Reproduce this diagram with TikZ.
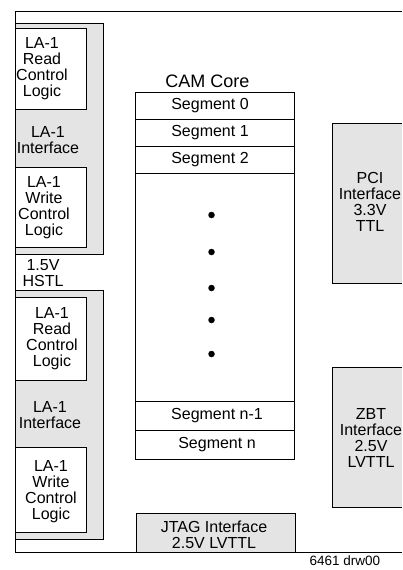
\documentclass[tikz,border=0pt]{standalone}
\usepackage{fontspec}
\setmainfont{Liberation Sans}
\definecolor{boxgray}{HTML}{E4E4E4}
\begin{document}
\begin{tikzpicture}[x=1pt,y=-1pt,line width=1pt,
  txt/.style={font=\fontsize{16}{16}\selectfont,align=center,inner sep=0pt},
  small/.style={font=\fontsize{13.5}{15}\selectfont,inner sep=0pt},
  title/.style={font=\fontsize{18}{18}\selectfont,inner sep=0pt},
  gbox/.style={draw,fill=boxgray},
  wbox/.style={draw,fill=white},
  dot/.style={circle,fill=black,inner sep=0pt,minimum size=6.5pt}]
\useasboundingbox (0,0) rectangle (402,570);
% outer frame
\draw (402,11) -- (15,11) -- (15,552) -- (402,552);
% upper LA-1 interface
\draw[gbox] (15,23) rectangle (103,254);
\draw[wbox] (15,28) rectangle (86,109);
\draw[wbox] (15,167) rectangle (86,247);
\node[txt] (ur) at (42,69) {LA-1\\Read\\Control\\Logic};
\node[txt] (ui) at (48,140) {LA-1\\Interface};
\node[txt] (uw) at (44,208) {LA-1\\Write\\Control\\Logic};
\node[txt] (hstl) at (43,273) {1.5V\\HSTL};
% lower LA-1 interface
\draw[gbox] (15,290) rectangle (103,539);
\draw[wbox] (15,297) rectangle (86,380);
\draw[wbox] (15,447) rectangle (86,532);
\node[txt] (lr) at (52,338.5) {LA-1\\Read\\Control\\Logic};
\node[txt] (li) at (50,415) {LA-1\\Interface};
\node[txt] (lw) at (51,491.5) {LA-1\\Write\\Control\\Logic};
% CAM core
\node[title] (cam) at (207.5,81) {CAM Core};
\draw (135,92) rectangle (294,459);
\draw (135,119) -- (294,119);
\draw (135,146) -- (294,146);
\draw (135,173) -- (294,173);
\draw (135,401) -- (294,401);
\draw (135,430) -- (294,430);
\node[txt] (s0) at (210,105.5) {Segment 0};
\node[txt] (s1) at (210,132.5) {Segment 1};
\node[txt] (s2) at (210,159.5) {Segment 2};
\node[txt] (sn1) at (217,415.5) {Segment n-1};
\node[txt] (sn) at (217,444.5) {Segment n};
\node[dot] (d1) at (211.5,215) {};
\node[dot] (d2) at (211.5,252) {};
\node[dot] (d3) at (211.5,288) {};
\node[dot] (d4) at (211.5,320) {};
\node[dot] (d5) at (211.5,354) {};
% JTAG
\draw[gbox] (136,513) rectangle (295,552);
\node[txt] (jtag) at (214,535) {JTAG Interface\\2.5V LVTTL};
% PCI
\fill[boxgray] (332,123) rectangle (402,283);
\draw (402,123) -- (332,123) -- (332,283) -- (402,283);
\node[txt] (pci) at (370,202) {PCI\\Interface\\3.3V\\TTL};
% ZBT
\fill[boxgray] (332,367) rectangle (402,507);
\draw (402,367) -- (332,367) -- (332,507) -- (402,507);
\node[txt] (zbt) at (371,437.5) {ZBT\\Interface\\2.5V\\LVTTL};
% caption
\node[small] (cap) at (345,561) {6461 drw00};
\end{tikzpicture}
\end{document}
